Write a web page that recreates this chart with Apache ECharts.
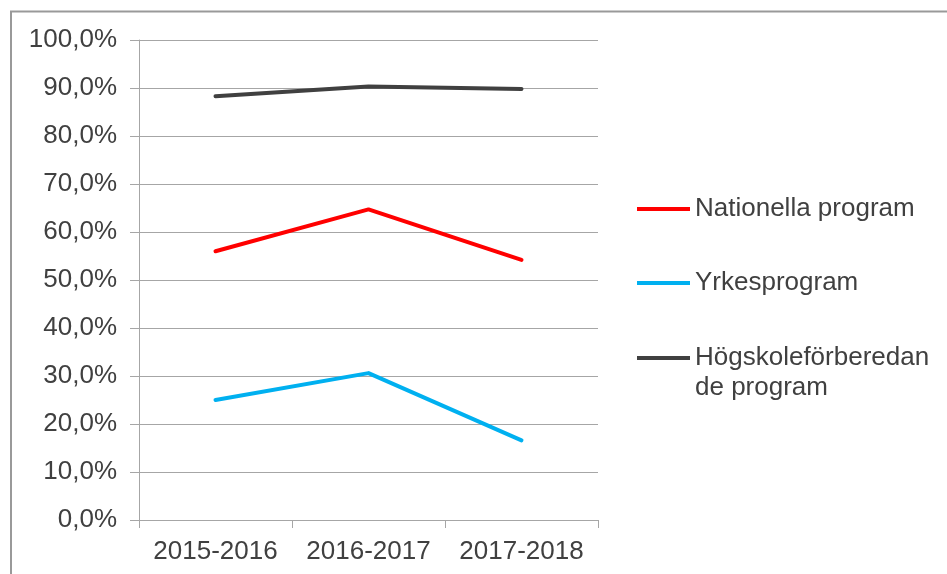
<!DOCTYPE html>
<html>
<head>
<meta charset="utf-8">
<script src="https://cdn.jsdelivr.net/npm/echarts@6/dist/echarts.min.js"></script>
<style>
html,body{margin:0;padding:0;background:#fff;}
#c{width:947px;height:574px;}
</style>
</head>
<body>
<div id="c"></div>
<script>
const categories = ['2015-2016', '2016-2017', '2017-2018'];
const nationella = [0.560, 0.647, 0.542];
const yrkes = [0.250, 0.306, 0.166];
const hogskole = [0.883, 0.903, 0.898];
const seriesNames = ['Nationella program', 'Yrkesprogram', 'Högskoleförberedan\nde program'];
const yTicks = { min: 0, max: 1, interval: 0.1 };

const FONT = 'Liberation Sans, Arial, sans-serif';
const TEXT = '#404040';
const GRID = '#A6A6A6';

const chart = echarts.init(document.getElementById('c'), null, { renderer: 'canvas' });

function legendFor(name, top, extra) {
  return Object.assign({
    data: [name],
    left: 637,
    top: top,
    orient: 'vertical',
    padding: 0,
    itemWidth: 53,
    itemHeight: 4,
    icon: 'rect',
    selectedMode: false,
    textStyle: { fontFamily: FONT, fontSize: 26, color: TEXT, lineHeight: 30 }
  }, extra || {});
}

chart.setOption({
  animation: false,
  backgroundColor: '#fff',
  graphic: [{
    type: 'rect',
    shape: { x: 11, y: 11.5, width: 1000, height: 700 },
    style: { fill: 'none', stroke: '#999999', lineWidth: 2 },
    silent: true
  }],
  grid: { left: 139, right: 349, top: 40, bottom: 54, containLabel: false },
  legend: [
    legendFor(seriesNames[0], 194),
    legendFor(seriesNames[1], 268),
    legendFor(seriesNames[2], 313, { formatter: n => '\n' + n })
  ],
  xAxis: {
    type: 'category',
    data: categories,
    boundaryGap: true,
    axisLine: { show: true, lineStyle: { color: GRID, width: 1 } },
    axisTick: { show: true, length: 8, alignWithLabel: false, lineStyle: { color: GRID } },
    axisLabel: { fontFamily: FONT, fontSize: 26, color: TEXT, margin: 17, lineHeight: 30, interval: 0, hideOverlap: false },
    splitLine: { show: false }
  },
  yAxis: {
    type: 'value',
    min: yTicks.min,
    max: yTicks.max,
    interval: yTicks.interval,
    axisLine: { show: true, lineStyle: { color: GRID, width: 1 } },
    axisTick: { show: true, length: 9, inside: false, lineStyle: { color: GRID } },
    axisLabel: {
      fontFamily: FONT, fontSize: 26, color: TEXT, margin: 22,
      formatter: v => (v * 100).toFixed(1).replace('.', ',') + '%'
    },
    splitLine: { show: true, lineStyle: { color: GRID, width: 1 } }
  },
  series: [
    { name: seriesNames[0], type: 'line', data: nationella, symbol: 'none', color: '#FF0000',
      lineStyle: { width: 4, color: '#FF0000', cap: 'round', join: 'round' } },
    { name: seriesNames[1], type: 'line', data: yrkes, symbol: 'none', color: '#00B0F0',
      lineStyle: { width: 4, color: '#00B0F0', cap: 'round', join: 'round' } },
    { name: seriesNames[2], type: 'line', data: hogskole, symbol: 'none', color: '#404040',
      lineStyle: { width: 4, color: '#404040', cap: 'round', join: 'round' } }
  ]
});
</script>
</body>
</html>
